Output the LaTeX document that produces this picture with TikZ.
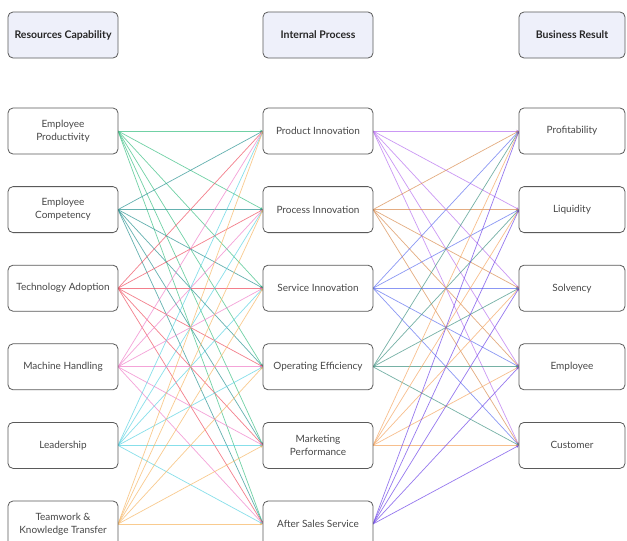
\documentclass[tikz,border=0pt]{standalone}
\usepackage{fontspec}
\setmainfont{Lato}
\usetikzlibrary{arrows.meta}
\definecolor{cLa}{HTML}{35BE80}
\definecolor{cLb}{HTML}{23908F}
\definecolor{cLc}{HTML}{EF4A5C}
\definecolor{cLd}{HTML}{F07CC8}
\definecolor{cLe}{HTML}{55D2E2}
\definecolor{cLf}{HTML}{F7B560}
\definecolor{cMa}{HTML}{B66DF0}
\definecolor{cMb}{HTML}{D98A4C}
\definecolor{cMc}{HTML}{5A6CF0}
\definecolor{cMd}{HTML}{3C9080}
\definecolor{cMe}{HTML}{F5A45E}
\definecolor{cMf}{HTML}{6A40E8}
\definecolor{boxline}{HTML}{5A5A5A}
\definecolor{headfill}{HTML}{EEF0FA}
\tikzset{
  box/.style={draw=boxline, line width=0.8pt, rounded corners=5pt, fill=white,
    minimum width=110pt, minimum height=46pt, align=center, font=\fontsize{10}{13}\selectfont, text=black!72, inner sep=1pt},
  rbox/.style={box, minimum width=106pt},
  headbox/.style={box, fill=headfill, font=\fontsize{10.5}{13}\selectfont\bfseries, text=black!85},
  link/.style={line width=0.7pt, draw opacity=0.7, -{Stealth[length=3pt,width=2.6pt]}}
}
\begin{document}
\begin{tikzpicture}[x=1pt,y=-1pt]
\useasboundingbox (0,0) rectangle (627,541);
\clip (0,0) rectangle (627,541);
\fill[white] (0,0) rectangle (627,541);
% headers
\node[headbox] (H1) at (63,35) {Resources Capability};
\node[headbox] (H2) at (318,35) {Internal Process};
\node[headbox, minimum width=106pt] (H3) at (572,35) {Business Result};
% connector end points on the box sides
\foreach \i in {1,...,6}{
  \coordinate (Ls\i) at (118,{131+78.6*(\i-1)});
  \coordinate (Mt\i) at (263,{131+78.6*(\i-1)});
  \coordinate (Ms\i) at (373,{131+78.6*(\i-1)});
}
\foreach \k in {1,...,5}{
  \coordinate (Rt\k) at (519,{131+78.6*(\k-1)});
}
\foreach \i/\c in {1/cLa,2/cLb,3/cLc,4/cLd,5/cLe,6/cLf}{
  \foreach \j in {1,...,6}{
    \draw[link, \c] (Ls\i) -- (Mt\j);
  }
}
\foreach \j/\c in {1/cMa,2/cMb,3/cMc,4/cMd,5/cMe,6/cMf}{
  \foreach \k in {1,...,5}{
    \draw[link, \c] (Ms\j) -- (Rt\k);
  }
}
% left column
\node[box] (L1) at (63,131) {Employee\\Productivity};
\node[box] (L2) at (63,209.6) {Employee\\Competency};
\node[box] (L3) at (63,288.2) {Technology Adoption};
\node[box] (L4) at (63,366.8) {Machine Handling};
\node[box] (L5) at (63,445.4) {Leadership};
\node[box] (L6) at (63,524) {Teamwork \&\\Knowledge Transfer};
% middle column
\node[box] (M1) at (318,131) {Product Innovation};
\node[box] (M2) at (318,209.6) {Process Innovation};
\node[box] (M3) at (318,288.2) {Service Innovation};
\node[box] (M4) at (318,366.8) {Operating Efficiency};
\node[box] (M5) at (318,445.4) {Marketing\\Performance};
\node[box] (M6) at (318,524) {After Sales Service};
% right column
\node[rbox] (R1) at (572,131) {Profitability};
\node[rbox] (R2) at (572,209.6) {Liquidity};
\node[rbox] (R3) at (572,288.2) {Solvency};
\node[rbox] (R4) at (572,366.8) {Employee};
\node[rbox] (R5) at (572,445.4) {Customer};
\end{tikzpicture}
\end{document}
